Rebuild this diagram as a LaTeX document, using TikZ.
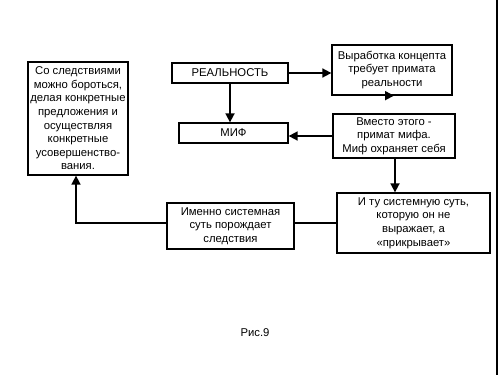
\documentclass[tikz,border=0pt]{standalone}
\usepackage{fontspec}
\setmainfont{Liberation Sans}
\usepackage{tikz}
\usetikzlibrary{arrows.meta}

\begin{document}
\begin{tikzpicture}[x=1pt,y=-1pt,
    box/.style={draw,line width=1.3pt,align=center,inner sep=0pt,
      font=\fontsize{11.3}{13.6}\selectfont},
    link/.style={line width=1.7pt},
    arr/.style={link,-{Triangle[width=9pt,length=9pt]}}]
        \useasboundingbox (0,0) rectangle (500,375);
        \node[box,minimum width=116pt,minimum height=20pt] (real) at (230,73) {РЕАЛЬНОСТЬ};
        \node[box,minimum width=109pt,minimum height=20pt] (mif) at (233.5,133) {МИФ};
        \node[box,minimum width=120pt,minimum height=50pt] (vyrab) at (392,70)
          {Выработка концепта\\требует примата\\реальности};
        \node[box,minimum width=122pt,minimum height=44pt] (vmesto) at (394,136)
          {Вместо этого -\\примат мифа.\\Миф охраняет себя};
        \node[box,minimum width=153pt,minimum height=60pt] (sut) at (413.5,223)
          {И ту системную суть,\\которую он не\\выражает, а\\«прикрывает»};
        \node[box,minimum width=127pt,minimum height=46pt] (imenno) at (230.5,226)
          {Именно системная\\суть порождает\\следствия};
        \node[box,minimum width=100pt,minimum height=113pt] (sledstv) at (78,118.5)
          {Со следствиями\\можно бороться,\\делая конкретные\\предложения и\\осуществляя\\конкретные\\усовершенство-\\вания.};
        \node[font=\fontsize{11.3}{13}\selectfont] (ris) at (255,333) {Рис.9};
        \coordinate (povorot) at (76,223);
        \draw[arr] (real.east) -- (real.east -| vyrab.west);
        \draw[arr] (real.south) -- (real.south |- mif.north);
        \draw[arr] (vyrab.south) -- (vyrab.south -| vmesto.north);
        \draw[arr] (vmesto.west) -- (vmesto.west -| mif.east);
        \draw[arr] (vmesto.south -| 395,0) -- (sut.north -| 395,0);
        \draw[link] (sut.west |- povorot) -- (imenno.east |- povorot);
        \draw[arr] (imenno.west |- povorot) -- (povorot) -- (povorot |- sledstv.south);
        \draw[line width=1.5pt] (497,0) -- (497,375);
      \end{tikzpicture}
\end{document}
